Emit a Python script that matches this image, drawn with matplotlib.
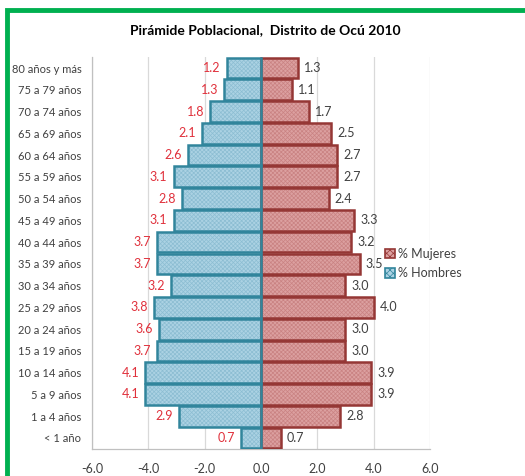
import numpy as np
import matplotlib
matplotlib.use('Agg')
import matplotlib.pyplot as plt
from matplotlib.patches import Rectangle

plt.rcParams['font.family'] = ['Lato', 'DejaVu Sans']
plt.rcParams['hatch.linewidth'] = 0.5

grupos = ['80 años y más', '75 a 79 años', '70 a 74 años', '65 a 69 años',
          '60 a 64 años', '55 a 59 años', '50 a 54 años', '45 a 49 años',
          '40 a 44 años', '35 a 39 años', '30 a 34 años', '25 a 29 años',
          '20 a 24 años', '15 a 19 años', '10 a 14 años', '5 a 9 años',
          '1 a 4 años', '< 1 año']
hombres = [1.2, 1.3, 1.8, 2.1, 2.6, 3.1, 2.8, 3.1, 3.7, 3.7, 3.2, 3.8,
           3.6, 3.7, 4.1, 4.1, 2.9, 0.7]
mujeres = [1.3, 1.1, 1.7, 2.5, 2.7, 2.7, 2.4, 3.3, 3.2, 3.5, 3.0, 4.0,
           3.0, 3.0, 3.9, 3.9, 2.8, 0.7]
xticks = [-6, -4, -2, 0, 2, 4, 6]

fig = plt.figure(figsize=(5.25, 4.76), dpi=100)
ax = fig.add_axes([0.175, 0.057, 0.644, 0.823])

y = np.arange(len(grupos))
h = -np.array(hombres)
m = np.array(mujeres)

# relleno con trama y borde por separado
ax.barh(y, m, height=0.95, color='#dca0a0', edgecolor='#c98282',
        hatch='xxxxxxxx', linewidth=0, zorder=2)
ax.barh(y, m, height=0.95, fill=False, edgecolor='#953735',
        linewidth=1.8, zorder=3)
ax.barh(y, h, height=0.95, color='#abd2e3', edgecolor='#8cbdd2',
        hatch='xxxxxxxx', linewidth=0, zorder=2)
ax.barh(y, h, height=0.95, fill=False, edgecolor='#31859c',
        linewidth=1.8, zorder=3)

for yi, v in zip(y, hombres):
    ax.text(-v - 0.22, yi, f'{v:.1f}', ha='right', va='center',
            color='#e0313c', fontsize=9)
for yi, v in zip(y, mujeres):
    ax.text(v + 0.22, yi, f'{v:.1f}', ha='left', va='center',
            color='#404040', fontsize=9)

ax.set_xlim(-6, 6)
ax.set_ylim(len(grupos) - 0.5, -0.5)
ax.set_xticks(xticks)
ax.set_xticklabels([f'{t:.1f}' for t in xticks])
ax.set_yticks(y)
ax.set_yticklabels(grupos)
ax.tick_params(axis='both', length=0, colors='#404040')
ax.tick_params(axis='x', pad=10, labelsize=9)
ax.tick_params(axis='y', pad=7.5, labelsize=8)
ax.xaxis.grid(True, color='#d9d9d9', linewidth=0.9, zorder=0)
ax.set_axisbelow(True)
for s in ['top', 'right']:
    ax.spines[s].set_visible(False)
for s in ['left', 'bottom']:
    ax.spines[s].set_color('#c0c0c0')
    ax.spines[s].set_linewidth(0.9)

fig.text(0.505, 0.937, 'Pirámide Poblacional,  Distrito de Ocú 2010',
         ha='center', va='center', fontsize=10, fontweight='bold', color='#000000')

hm = Rectangle((0, 0), 1, 1, facecolor='#dca0a0', edgecolor='#953735',
               hatch='xxxxx', linewidth=1.2)
hh = Rectangle((0, 0), 1, 1, facecolor='#abd2e3', edgecolor='#31859c',
               hatch='xxxxx', linewidth=1.2)
fig.legend([hm, hh], ['% Mujeres', '% Hombres'], loc='upper left',
           bbox_to_anchor=(0.712, 0.503), frameon=False, fontsize=9,
           handlelength=0.8, handleheight=0.8, handletextpad=0.2,
           labelspacing=0.6, labelcolor='#404040')

# marco verde
fig.patches.append(Rectangle((7 / 525, -0.1), 2, 1.1 - 10 / 476,
                             transform=fig.transFigure, fill=False,
                             edgecolor='#00b050', linewidth=3.5))

fig.savefig('out.png', dpi=100, facecolor='white')
